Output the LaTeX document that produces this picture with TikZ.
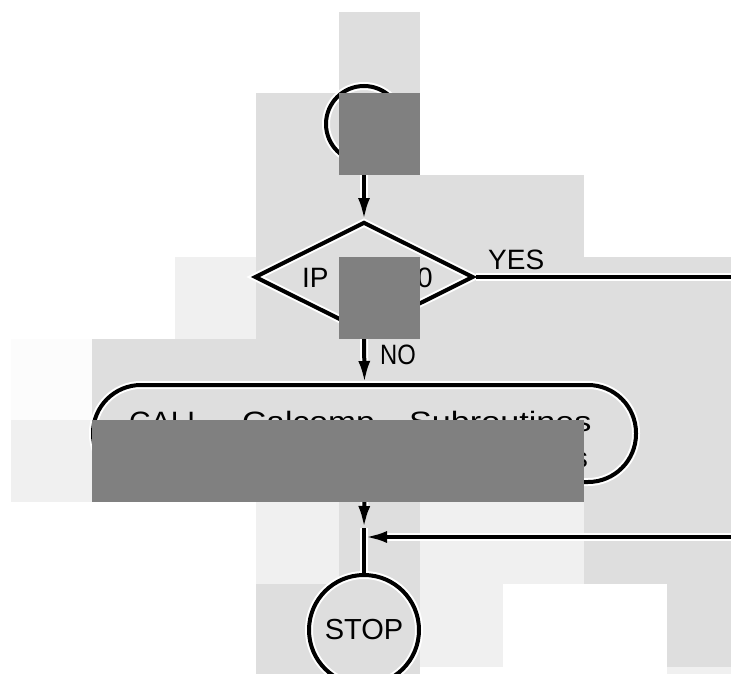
\documentclass[tikz,border=0pt]{standalone}
\usepackage{fontspec}
\usepackage{graphicx}
\setmainfont{Liberation Sans}
\usetikzlibrary{shapes.geometric,arrows.meta,calc}
\definecolor{lg}{HTML}{DEDEDE}
\definecolor{vl}{HTML}{F0F0F0}
\definecolor{dk}{HTML}{808080}
\definecolor{fw}{HTML}{FCFCFC}
\begin{document}
\begin{tikzpicture}[x=1pt,y=-1pt,
  ink/.style={draw=black, line width=4pt, preaction={draw=white, line width=8pt}},
  conn/.style={ink, -{Latex[length=22pt,width=12pt]}},
  plain/.style={ink},
  lbl/.style={inner sep=0pt, font=\fontsize{28}{28}\selectfont},
  blk/.style={fill=dk}]
\useasboundingbox (0,0) rectangle (731,674);
% background patches
\fill[lg] (339,12) rectangle (420,93);
\fill[lg] (256,93) rectangle (339,175);
\fill[lg] (256,175) rectangle (584,257);
\fill[vl] (175,257) rectangle (256,339);
\fill[lg] (256,257) rectangle (731,339);
\fill[fw] (11,339) rectangle (92,420);
\fill[lg] (92,339) rectangle (731,420);
\fill[vl] (11,420) rectangle (92,502);
\fill[lg] (584,420) rectangle (731,502);
\fill[vl] (256,502) rectangle (339,584);
\fill[lg] (339,502) rectangle (420,584);
\fill[vl] (420,502) rectangle (584,584);
\fill[lg] (584,502) rectangle (731,584);
\fill[lg] (256,584) rectangle (420,674);
\fill[vl] (420,584) rectangle (503,667);
\fill[lg] (667,584) rectangle (731,667);
\fill[vl] (667,667) rectangle (731,674);
% nodes
\node[ink, circle, minimum size=76pt, inner sep=0pt] (start) at (364,124) {};
\node[ink, diamond, minimum width=219pt, minimum height=110pt, inner sep=0pt] (dec) at (364,277) {};
\node[ink, rectangle, rounded corners=48pt, minimum width=543pt, minimum height=97pt, inner sep=0pt] (call) at (364.5,433.5) {};
\node[ink, circle, minimum size=110pt, inner sep=0pt, font=\fontsize{29}{29}\selectfont] (stop) at (364,630) {STOP};
\coordinate (yesend) at (731,279);
\coordinate (retend) at (731,537);
\coordinate (join) at (364,537);
\coordinate (tipA) at (364,528);
% connectors
\draw[conn] (start) -- (dec.north);
\draw[plain] (dec.east) -- (dec.east -| yesend);
\draw[conn] (dec.south) -- (call.north);
\draw[conn] (call.south) -- (tipA);
\draw[conn, shorten >=1pt] (retend) -- (join);
\draw[plain] (tipA) -- (stop.north);
% labels
\node[lbl, anchor=base west] (yes) at (488,269) {YES};
\node[lbl, anchor=base west] (no) at (380,364) {\scalebox{0.85}[1]{NO}};
\node[lbl, anchor=base west] (ip) at (302,287) {IP};
\node[lbl, anchor=base east] (zero) at (433,287) {0};
\node[lbl, anchor=base west] (w1) at (129,431) {\scalebox{1.07}[1]{CALL}};
\node[lbl, anchor=base west] (w2) at (242,431) {\scalebox{1.2}[1]{Calcomp}};
\node[lbl, anchor=base west] (w3) at (409,431) {\scalebox{1.22}[1]{Subroutines}};
\node[lbl, anchor=base east] (w4) at (588,467) {s};
% dark patches on top
\fill[blk] (339,93) rectangle (420,175);
\fill[blk] (339,257) rectangle (420,339);
\fill[blk] (92,420) rectangle (584,502);
\end{tikzpicture}
\end{document}
